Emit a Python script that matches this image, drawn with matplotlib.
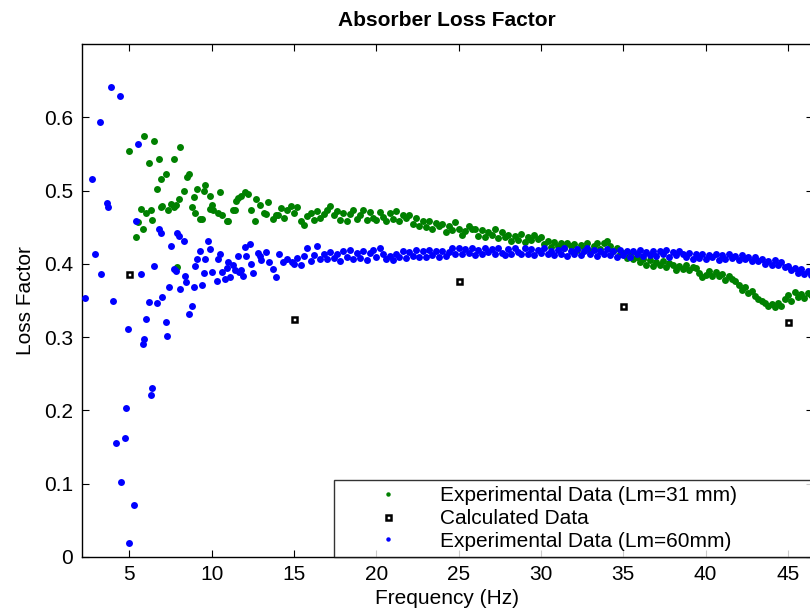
import matplotlib
matplotlib.use('Agg')
import matplotlib.pyplot as plt
import numpy as np

plt.rcParams['font.family'] = ['Liberation Sans', 'DejaVu Sans']

# --- sparse low-frequency points, Lm = 31 mm (green)
freq_31_low = [5.0, 5.4, 5.5, 5.7, 5.8, 5.9, 6.0, 6.2, 6.3, 6.4,
               6.5, 6.7, 6.8, 6.9, 6.9, 7.0, 7.2, 7.35, 7.5, 7.7,
               7.7, 7.8, 7.9, 8.0, 8.1, 8.3, 8.5, 8.6, 8.8, 8.9,
               9.0, 9.1, 9.3, 9.4, 9.5, 9.6, 9.9, 9.9, 10.0, 10.1,
               10.4, 10.5, 10.6, 10.9, 11.0, 11.3, 11.4, 11.5, 11.6, 11.8,
               12.0, 12.2, 12.4, 12.6, 12.7, 12.9, 13.2, 13.3, 13.4, 13.7,
               13.9]
loss_31_low = [0.554, 0.436, 0.457, 0.475, 0.447, 0.574, 0.469, 0.538, 0.474, 0.460,
               0.567, 0.502, 0.543, 0.516, 0.477, 0.479, 0.522, 0.474, 0.482, 0.543,
               0.478, 0.480, 0.396, 0.489, 0.560, 0.500, 0.518, 0.522, 0.477, 0.491,
               0.469, 0.502, 0.461, 0.461, 0.500, 0.507, 0.492, 0.475, 0.480, 0.473,
               0.470, 0.498, 0.466, 0.459, 0.459, 0.473, 0.473, 0.486, 0.490, 0.493,
               0.498, 0.495, 0.473, 0.459, 0.489, 0.480, 0.470, 0.468, 0.484, 0.461,
               0.466]

# --- dense part, Lm = 31 mm, 0.2 Hz steps from 14.0 Hz
freq_31_high = np.round(np.arange(14.0, 46.41, 0.2), 1)
loss_31_high = [
    0.466, 0.476, 0.463, 0.474, 0.479, 0.470, 0.478, 0.458, 0.453, 0.465,  # 14
    0.470, 0.460, 0.472, 0.463, 0.468, 0.474, 0.479, 0.466, 0.472, 0.460,  # 16
    0.470, 0.459, 0.468, 0.473, 0.461, 0.467, 0.474, 0.460, 0.471, 0.463,  # 18
    0.460, 0.471, 0.464, 0.458, 0.469, 0.461, 0.472, 0.459, 0.467, 0.462,  # 20
    0.466, 0.455, 0.463, 0.452, 0.459, 0.450, 0.458, 0.448, 0.456, 0.451,  # 22
    0.455, 0.444, 0.452, 0.446, 0.457, 0.448, 0.440, 0.445, 0.452, 0.447,  # 24
    0.448, 0.438, 0.446, 0.436, 0.444, 0.440, 0.447, 0.435, 0.443, 0.437,  # 26
    0.440, 0.431, 0.438, 0.433, 0.441, 0.430, 0.437, 0.432, 0.439, 0.434,  # 28
    0.436, 0.427, 0.431, 0.423, 0.430, 0.424, 0.429, 0.421, 0.428, 0.425,  # 30
    0.427, 0.419, 0.426, 0.421, 0.428, 0.418, 0.425, 0.429, 0.420, 0.428,  # 32
    0.431, 0.424, 0.417, 0.421, 0.413, 0.415, 0.408, 0.412, 0.406, 0.409,  # 34
    0.403, 0.407, 0.399, 0.405, 0.397, 0.403, 0.398, 0.404, 0.396, 0.401,  # 36
    0.398, 0.392, 0.397, 0.393, 0.399, 0.391, 0.396, 0.394, 0.388, 0.382,  # 38
    0.385, 0.390, 0.384, 0.389, 0.383, 0.386, 0.378, 0.384, 0.380, 0.376,  # 40
    0.371, 0.365, 0.368, 0.360, 0.363, 0.356, 0.352, 0.349, 0.346, 0.343,  # 42
    0.345, 0.341, 0.346, 0.342, 0.352, 0.358, 0.350, 0.362, 0.355, 0.359,  # 44
    0.354, 0.360, 0.357]                                                   # 46

# --- sparse low-frequency points, Lm = 60 mm (blue)
freq_60_low = [2.3, 2.7, 2.9, 3.2, 3.3, 3.65, 3.7, 3.9, 4.0, 4.2,
               4.4, 4.5, 4.7, 4.8, 4.9, 5.0, 5.3, 5.4, 5.5, 5.7,
               5.8, 5.9, 6.0, 6.2, 6.3, 6.4, 6.5, 6.7, 6.8, 6.9,
               7.0, 7.2, 7.3, 7.4, 7.5, 7.7, 7.8, 7.9, 8.0, 8.1,
               8.3, 8.4, 8.45, 8.6, 8.8, 8.9, 9.0, 9.1, 9.3, 9.4,
               9.5, 9.6, 9.8, 9.9, 10.0, 10.3, 10.4, 10.5, 10.6, 10.8,
               10.9, 11.0, 11.1, 11.3, 11.4, 11.6, 11.65, 11.8, 11.9, 12.0,
               12.1, 12.3, 12.4, 12.5, 12.8, 12.9, 13.0, 13.3, 13.5, 13.7,
               13.9, 14.1, 14.3, 14.6, 14.9]
loss_60_low = [0.353, 0.516, 0.413, 0.594, 0.386, 0.483, 0.478, 0.641, 0.350, 0.156,
               0.629, 0.102, 0.163, 0.203, 0.311, 0.019, 0.071, 0.459, 0.563, 0.386,
               0.290, 0.297, 0.325, 0.348, 0.221, 0.230, 0.397, 0.346, 0.448, 0.442,
               0.355, 0.321, 0.301, 0.368, 0.424, 0.393, 0.390, 0.442, 0.438, 0.366,
               0.431, 0.384, 0.375, 0.332, 0.343, 0.368, 0.397, 0.406, 0.417, 0.371,
               0.387, 0.406, 0.431, 0.420, 0.389, 0.377, 0.407, 0.413, 0.389, 0.380,
               0.395, 0.402, 0.382, 0.398, 0.391, 0.411, 0.389, 0.391, 0.384, 0.423,
               0.411, 0.427, 0.400, 0.387, 0.415, 0.411, 0.405, 0.416, 0.402, 0.393,
               0.382, 0.413, 0.402, 0.407, 0.402]

# --- dense part, Lm = 60 mm, 0.2 Hz steps from 15.0 Hz
freq_60_high = np.round(np.arange(15.0, 46.41, 0.2), 1)
loss_60_high = [
    0.400, 0.408, 0.398, 0.411, 0.421, 0.404, 0.412, 0.424, 0.407, 0.414,  # 15
    0.406, 0.416, 0.408, 0.414, 0.404, 0.417, 0.409, 0.419, 0.406, 0.415,  # 17
    0.408, 0.417, 0.405, 0.415, 0.419, 0.409, 0.422, 0.414, 0.406, 0.411,  # 19
    0.405, 0.414, 0.410, 0.418, 0.408, 0.416, 0.411, 0.419, 0.409, 0.417,  # 21
    0.410, 0.419, 0.412, 0.417, 0.409, 0.418, 0.411, 0.416, 0.421, 0.413,  # 23
    0.421, 0.413, 0.420, 0.415, 0.422, 0.412, 0.419, 0.414, 0.421, 0.416,  # 25
    0.420, 0.413, 0.421, 0.415, 0.412, 0.420, 0.414, 0.422, 0.416, 0.413,  # 27
    0.421, 0.414, 0.420, 0.412, 0.419, 0.415, 0.422, 0.413, 0.418, 0.412,  # 29
    0.419, 0.413, 0.421, 0.411, 0.418, 0.414, 0.420, 0.412, 0.417, 0.421,  # 31
    0.413, 0.419, 0.411, 0.418, 0.413, 0.420, 0.412, 0.417, 0.410, 0.419,  # 33
    0.412, 0.418, 0.410, 0.417, 0.413, 0.419, 0.411, 0.416, 0.412, 0.418,  # 35
    0.411, 0.417, 0.413, 0.419, 0.410, 0.416, 0.412, 0.418, 0.414, 0.410,  # 37
    0.415, 0.407, 0.413, 0.408, 0.414, 0.406, 0.412, 0.409, 0.414, 0.405,  # 39
    0.412, 0.406, 0.413, 0.408, 0.411, 0.405, 0.412, 0.407, 0.410, 0.404,  # 41
    0.410, 0.404, 0.407, 0.400, 0.404, 0.399, 0.405, 0.398, 0.402, 0.396,  # 43
    0.397, 0.391, 0.395, 0.388, 0.393, 0.386, 0.390, 0.385]                # 45

# --- calculated values
freq_calc = [5, 15, 25, 35, 45]
loss_calc = [0.386, 0.325, 0.376, 0.343, 0.321]

labels = ['Experimental Data (Lm=31 mm)', 'Calculated Data', 'Experimental Data (Lm=60mm)']

freq_31 = np.concatenate([freq_31_low, freq_31_high])
loss_31 = np.concatenate([loss_31_low, loss_31_high])
freq_60 = np.concatenate([freq_60_low, freq_60_high])
loss_60 = np.concatenate([loss_60_low, loss_60_high])

fig = plt.figure(figsize=(8.1, 6.15), dpi=100)
ax = fig.add_axes([81.7 / 810, 58 / 615, 731 / 810, 513 / 615])

l1, = ax.plot(freq_31, loss_31, 'o', color='#008000', markersize=5.0, markeredgewidth=0, zorder=2, label=labels[0])
l2, = ax.plot(freq_calc, loss_calc, 's', markerfacecolor='white', markeredgecolor='black',
              markersize=3.6, markeredgewidth=1.8, zorder=4, label=labels[1])
l3, = ax.plot(freq_60, loss_60, 'o', color='#0000ff', markersize=5.0, markeredgewidth=0, zorder=3, label=labels[2])

ax.set_xlim(2.1, 46.5)
ax.set_ylim(0, 0.7)
ax.set_xticks([5, 10, 15, 20, 25, 30, 35, 40, 45])
ax.set_yticks([0, 0.1, 0.2, 0.3, 0.4, 0.5, 0.6])
ax.set_yticklabels(['0', '0.1', '0.2', '0.3', '0.4', '0.5', '0.6'])
ax.tick_params(direction='in', length=5, width=0.8, labelsize=15, pad=6,
               top=True, right=True)
for s in ax.spines.values():
    s.set_linewidth(1.0)

ax.set_title('Absorber Loss Factor', fontsize=15, fontweight='bold', pad=13)
ax.set_xlabel('Frequency (Hz)', fontsize=15, labelpad=3)
ax.set_ylabel('Loss Factor', fontsize=15, labelpad=7)

leg = ax.legend(handles=[l1, l2, l3], loc='lower left', mode='expand',
                bbox_to_anchor=(334 / 810, 58 / 615, 0.7, 0), bbox_transform=fig.transFigure,
                borderaxespad=0, fontsize=15, frameon=True, fancybox=False,
                handlelength=4.6, handletextpad=0.2, labelspacing=0.18, borderpad=0.3)
leg.get_frame().set_edgecolor('black')
leg.get_frame().set_linewidth(1.0)
for h in leg.legend_handles:
    if h.get_marker() == 'o':
        h.set_markersize(3.2)

fig.savefig('out.png', dpi=100)
